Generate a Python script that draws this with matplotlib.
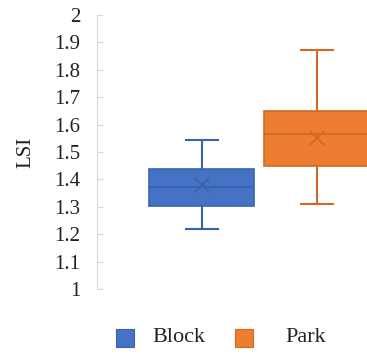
import matplotlib
matplotlib.use("Agg")
import matplotlib.pyplot as plt
from matplotlib.patches import Rectangle
from matplotlib import font_manager

categories = ["Block", "Park"]
q1 = [1.303, 1.449]
median = [1.372, 1.566]
q3 = [1.437, 1.650]
whislo = [1.218, 1.312]
whishi = [1.544, 1.872]
mean = [1.378, 1.552]
fills = ["#4472C4", "#ED7D31"]
edges = ["#3A63AE", "#D06A24"]
yticks = [1, 1.1, 1.2, 1.3, 1.4, 1.5, 1.6, 1.7, 1.8, 1.9, 2]

serif_path = None
for f in font_manager.fontManager.ttflist:
    if f.name in ("Liberation Serif", "TeX Gyre Termes") and f.style == "normal" and f.weight in (400, "normal", "regular"):
        serif_path = f.fname
        if f.name == "Liberation Serif":
            break

def fp(size):
    if serif_path:
        return font_manager.FontProperties(fname=serif_path, size=size)
    return font_manager.FontProperties(family='serif', size=size)

W, H = 367, 355
fig = plt.figure(figsize=(W / 100, H / 100), dpi=100)
ax = fig.add_axes([97 / W, 1 - 289 / H, 1 - 97 / W, (289 - 15) / H])

for i, c in enumerate(categories):
    st = dict(label=c, q1=q1[i], med=median[i], q3=q3[i],
              whislo=whislo[i], whishi=whishi[i], mean=mean[i], fliers=[])
    ax.bxp([st], positions=[i], widths=0.913, patch_artist=True,
           showmeans=True, showfliers=False, capwidths=0.27,
           boxprops=dict(facecolor=fills[i], edgecolor=edges[i], linewidth=1.2),
           medianprops=dict(color=edges[i], linewidth=1.5),
           whiskerprops=dict(color=edges[i], linewidth=1.5),
           capprops=dict(color=edges[i], linewidth=1.5),
           meanprops=dict(marker='x', markeredgecolor=edges[i], markersize=10,
                          markeredgewidth=1.3))

ax.set_xlim(-0.913, -0.913 + 270 / 115)
ax.set_ylim(1, 2)
ax.set_yticks(yticks)
ax.set_yticklabels([f"{t:g}" for t in yticks])
for lab in ax.get_yticklabels():
    lab.set_fontproperties(fp(15))
    lab.set_color('#222222')
ax.set_xticks([])
for s in ['top', 'right', 'bottom']:
    ax.spines[s].set_visible(False)
ax.spines['left'].set_color('#D9D9D9')
ax.tick_params(axis='y', direction='in', length=4, color='#D9D9D9', pad=12)
ax.set_ylabel("LSI", fontproperties=fp(15), color='#222222')
ax.yaxis.set_label_coords(-62 / 270, 0.5)

# legend drawn in figure pixels
sq_x = [116, 235]
txt_x = [152, 285]
yc = 338
for i, c in enumerate(categories):
    fig.patches.append(Rectangle((sq_x[i] / W, 1 - (yc + 9) / H), 18 / W, 18 / H,
                                 transform=fig.transFigure, facecolor=fills[i],
                                 edgecolor=edges[i], linewidth=0.8))
    fig.text(txt_x[i] / W, 1 - yc / H, c, ha='left', va='center',
             fontproperties=fp(16), color='#222222')

fig.savefig("out.png", dpi=100)
